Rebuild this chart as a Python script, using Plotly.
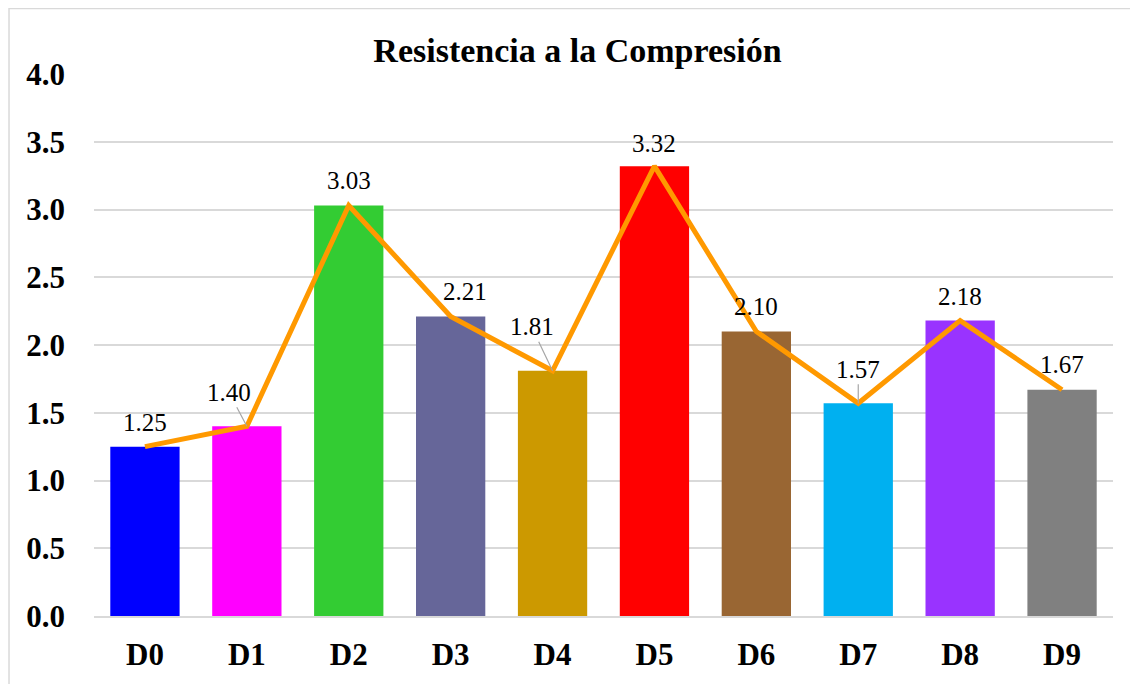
import plotly.graph_objects as go

categories = ['D0', 'D1', 'D2', 'D3', 'D4', 'D5', 'D6', 'D7', 'D8', 'D9']
values = [1.25, 1.40, 3.03, 2.21, 1.81, 3.32, 2.10, 1.57, 2.18, 1.67]
bar_colors = ['#0000FF', '#FF00FF', '#33CC33', '#666699', '#CC9900',
              '#FF0000', '#996633', '#00B0F0', '#9933FF', '#808080']
y_ticks = [0.0, 0.5, 1.0, 1.5, 2.0, 2.5, 3.0, 3.5, 4.0]

# label offsets in pixels (dx, dy, leader line)
label_offsets = [(0, -24, False), (-18, -34, True), (0, -25, False), (14, -25, False),
                 (-21, -44, True), (0, -23, False), (0, -25, False), (0, -34, True),
                 (0, -24, False), (0, -25, False)]

serif = 'Liberation Serif'

fig = go.Figure()
fig.add_trace(go.Bar(x=categories, y=values, marker_color=bar_colors,
                     marker_line_width=0, width=0.68, hoverinfo='skip'))
fig.add_trace(go.Scatter(x=categories, y=values, mode='lines',
                         line=dict(color='#FF9900', width=5), hoverinfo='skip'))

for cat, val, (dx, dy, leader) in zip(categories, values, label_offsets):
    if leader:
        fig.add_annotation(x=cat, y=val, text=f'{val:.2f}', showarrow=True,
                           ax=dx, ay=dy, arrowhead=0, arrowwidth=1.2,
                           arrowcolor='#A6A6A6', standoff=0,
                           font=dict(family=serif, size=25, color='#000000'))
    else:
        fig.add_annotation(x=cat, y=val, text=f'{val:.2f}', showarrow=False,
                           xshift=dx, yshift=-dy,
                           font=dict(family=serif, size=25, color='#000000'))

# outer chart frame
fig.add_shape(type='rect', xref='paper', yref='paper',
              x0=-0.0834, x1=1.05, y0=-0.2, y1=1.1209,
              line=dict(color='#D9D9D9', width=1.5), layer='below')

fig.update_layout(
    width=1130, height=676,
    margin=dict(l=86, r=25, t=66, b=68, autoexpand=False),
    paper_bgcolor='white', plot_bgcolor='white',
    showlegend=False,
    bargap=0.32,
    title=dict(text='<b>Resistencia a la Compresión</b>', x=0.504, xanchor='center',
               y=0.938, yanchor='middle',
               font=dict(family=serif, size=34, color='#000000')),
    font=dict(family=serif, color='#000000'),
)
fig.update_xaxes(showgrid=False, showline=True, linecolor='#D9D9D9', linewidth=1.5,
                 ticks='', tickfont=dict(family=serif, size=31, color='#000000'),
                 ticklabelstandoff=10, automargin=False,
                 tickvals=categories, ticktext=[f'<b>{c}</b>' for c in categories])
fig.update_yaxes(range=[0, 4.0], tickvals=y_ticks, ticktext=[f'<b>{t:.1f}</b>' for t in y_ticks],
                 showgrid=True, gridcolor='#D9D9D9', gridwidth=1.5, zeroline=False,
                 showline=False, ticks='', ticklabelstandoff=28, automargin=False,
                 tickfont=dict(family=serif, size=31, color='#000000'))

fig.write_html('out.html')
